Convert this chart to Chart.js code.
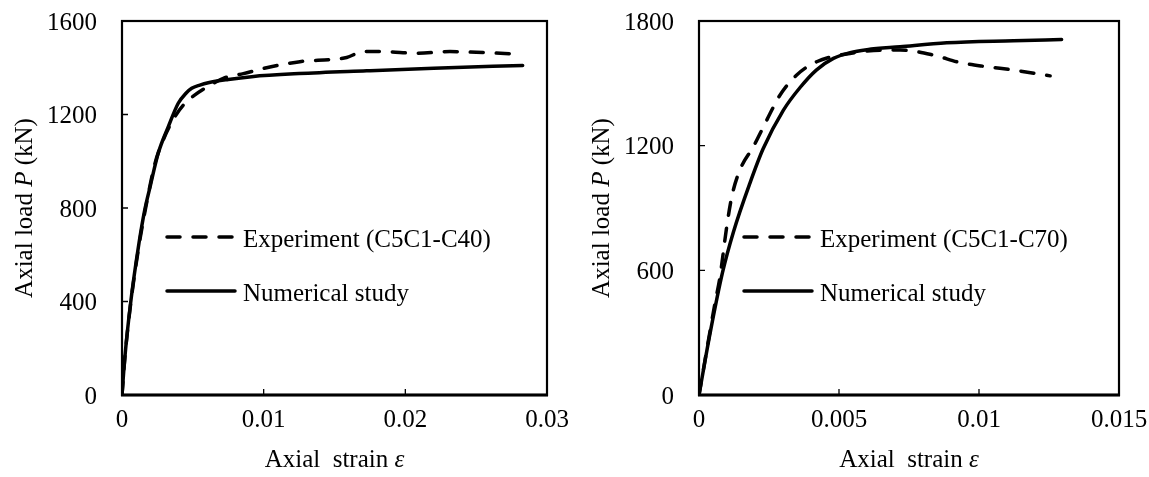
<!DOCTYPE html>
<html>
<head>
<meta charset="utf-8">
<title>Axial load vs axial strain</title>
<script src="https://cdn.jsdelivr.net/npm/chart.js@4.4.1/dist/chart.umd.min.js"></script>
<style>
  html, body { margin: 0; padding: 0; background: #fff; }
  #wrap { position: relative; width: 1149px; height: 477px; }
  .panel { position: absolute; top: 0; height: 477px; }
  #left { left: 0; width: 574px; }
  #right { left: 574px; width: 575px; }
</style>
</head>
<body>
<div id="wrap">
  <div class="panel" id="left"><canvas id="chartC40" width="574" height="477"></canvas></div>
  <div class="panel" id="right"><canvas id="chartC70" width="575" height="477"></canvas></div>
</div>
<script>
// C5C1-C40 specimen
const c40StrainExp = [0, 0.0002, 0.0006, 0.0012, 0.0017, 0.00233, 0.00291, 0.00374, 0.0044, 0.00515, 0.00644, 0.00715, 0.00857, 0.0102, 0.01256, 0.01491, 0.01586, 0.01703, 0.01844, 0.0208, 0.02315, 0.0255, 0.0278];
const c40LoadExp   = [0, 158, 385, 640, 810, 991, 1091, 1191, 1245, 1284, 1333, 1355, 1375, 1400, 1426, 1436, 1444, 1469, 1469, 1462, 1469, 1465, 1459];
const c40StrainNum = [0, 0.0002, 0.0006, 0.0012, 0.0016, 0.002, 0.00256, 0.00327, 0.00397, 0.0045, 0.00492, 0.0055, 0.00609, 0.0075, 0.00915, 0.0125, 0.01727, 0.022, 0.02828];
const c40LoadNum   = [0, 160, 390, 650, 790, 895, 1035, 1148, 1248, 1290, 1312, 1326, 1336, 1350, 1362, 1375, 1387, 1398, 1410];
const c40StrainTicks = [0, 0.01, 0.02, 0.03];
const c40LoadTicks   = [0, 400, 800, 1200, 1600];

// C5C1-C70 specimen
const c70StrainExp = [0, 0.00057, 0.00075, 0.00099, 0.00117, 0.00146, 0.00194, 0.00242, 0.00289, 0.00349, 0.0042, 0.00539, 0.00658, 0.00718, 0.00837, 0.00932, 0.01027, 0.01123, 0.01254];
const c70LoadExp   = [0, 441, 569, 810, 954, 1083, 1195, 1323, 1443, 1540, 1604, 1644, 1660, 1660, 1636, 1600, 1580, 1564, 1536];
const c70StrainNum = [0, 0.0004, 0.00084, 0.00123, 0.00182, 0.00229, 0.00301, 0.00361, 0.0042, 0.0048, 0.0054, 0.006, 0.00718, 0.00885, 0.01123, 0.01295];
const c70LoadNum   = [0, 300, 590, 785, 1020, 1185, 1370, 1480, 1565, 1620, 1648, 1662, 1676, 1695, 1705, 1711];
const c70StrainTicks = [0, 0.005, 0.01, 0.015];
const c70LoadTicks   = [0, 600, 1200, 1800];

const serif = "'Liberation Serif', 'Times New Roman', serif";
Chart.defaults.font.family = serif;
Chart.defaults.font.size = 25;
Chart.defaults.color = '#000';

function toPoints(xs, ys) {
  return xs.map((x, i) => ({ x: x, y: ys[i] }));
}

// draws pieces of text (some italic) one after another, centred on x
function drawRich(ctx, parts, x, y) {
  let total = 0;
  parts.forEach(p => {
    ctx.font = (p.italic ? 'italic ' : '') + '25px ' + serif;
    p.w = ctx.measureText(p.text).width;
    total += p.w;
  });
  let cx = x - total / 2;
  parts.forEach(p => {
    ctx.font = (p.italic ? 'italic ' : '') + '25px ' + serif;
    ctx.fillText(p.text, cx, y);
    cx += p.w;
  });
}

// box around the plot, inward ticks, axis titles and the legend
const framePlugin = {
  id: 'frame',
  afterDatasetsDraw(chart) {
    const ctx = chart.ctx;
    const a = chart.chartArea;
    const xs = chart.scales.x, ys = chart.scales.y;
    ctx.save();
    ctx.strokeStyle = '#000';
    ctx.lineWidth = 1.3;
    ctx.beginPath();
    xs.ticks.forEach(t => {
      const px = xs.getPixelForValue(t.value);
      ctx.moveTo(px, a.bottom);
      ctx.lineTo(px, a.bottom - 6);
    });
    ys.ticks.forEach(t => {
      const py = ys.getPixelForValue(t.value);
      ctx.moveTo(a.left, py);
      ctx.lineTo(a.left + 6, py);
    });
    ctx.stroke();

    ctx.lineWidth = 2.2;
    ctx.strokeRect(a.left, a.top, a.right - a.left, a.bottom - a.top);
    ctx.lineWidth = 3;
    ctx.beginPath();
    ctx.moveTo(a.left - 1, a.bottom);
    ctx.lineTo(a.right + 1, a.bottom);
    ctx.stroke();

    // axis titles
    ctx.fillStyle = '#000';
    ctx.textBaseline = 'alphabetic';
    drawRich(ctx, [{ text: 'Axial  strain ' }, { text: 'ε', italic: true }], (a.left + a.right) / 2, a.bottom + 72);
    ctx.save();
    ctx.translate(a.left - 90, (a.top + a.bottom) / 2);
    ctx.rotate(-Math.PI / 2);
    drawRich(ctx, [{ text: 'Axial load ' }, { text: 'P', italic: true }, { text: ' (kN)' }], 0, 0);
    ctx.restore();

    // legend
    chart.data.datasets.forEach((ds, i) => {
      const y = a.top + 216 + i * 54;
      ctx.save();
      ctx.lineWidth = ds.borderWidth;
      ctx.lineCap = 'round';
      ctx.setLineDash(ds.borderDash || []);
      ctx.beginPath();
      ctx.moveTo(a.left + 45, y);
      ctx.lineTo(a.left + 113, y);
      ctx.stroke();
      ctx.restore();
      ctx.font = '25px ' + serif;
      ctx.textAlign = 'left';
      ctx.fillText(ds.label, a.left + 121, y + 9.5);
    });
    ctx.restore();
  }
};

// keep the plot box fixed: no extra room reserved for overhanging tick labels
function clearPadding(s) {
  s.paddingTop = 0;
  s.paddingBottom = 0;
  s.paddingLeft = 0;
  s.paddingRight = 0;
}

function makeChart(id, name, strainExp, loadExp, strainNum, loadNum, strainTicks, loadTicks, yAxisWidth, rightPad) {
  const fmt = v => Number(v.toFixed(4)).toString();
  return new Chart(document.getElementById(id), {
    type: 'line',
    data: {
      datasets: [
        {
          label: 'Experiment (' + name + ')',
          data: toPoints(strainExp, loadExp),
          borderColor: '#000',
          borderWidth: 3.5,
          borderDash: [13, 13],
          borderCapStyle: 'round',
          cubicInterpolationMode: 'monotone',
          pointRadius: 0,
          fill: false
        },
        {
          label: 'Numerical study',
          data: toPoints(strainNum, loadNum),
          borderColor: '#000',
          borderWidth: 3.5,
          borderCapStyle: 'round',
          cubicInterpolationMode: 'monotone',
          pointRadius: 0,
          fill: false
        }
      ]
    },
    options: {
      responsive: false,
      animation: false,
      events: [],
      layout: { padding: { top: 21, right: rightPad, left: 0, bottom: 0 } },
      plugins: { legend: { display: false }, tooltip: { enabled: false } },
      scales: {
        x: {
          type: 'linear',
          min: strainTicks[0],
          max: strainTicks[strainTicks.length - 1],
          grid: { display: false, drawTicks: false },
          border: { display: false },
          ticks: {
            stepSize: strainTicks[1] - strainTicks[0],
            autoSkip: false,
            maxRotation: 0,
            padding: 10,
            callback: fmt
          },
          afterFit: s => { s.height = 82; clearPadding(s); }
        },
        y: {
          type: 'linear',
          min: loadTicks[0],
          max: loadTicks[loadTicks.length - 1],
          grid: { display: false, drawTicks: false },
          border: { display: false },
          ticks: {
            stepSize: loadTicks[1] - loadTicks[0],
            autoSkip: false,
            padding: 25,
            labelOffset: 2,
            callback: fmt
          },
          afterFit: s => { s.width = yAxisWidth; clearPadding(s); }
        }
      }
    },
    plugins: [framePlugin]
  });
}

makeChart('chartC40', 'C5C1-C40', c40StrainExp, c40LoadExp, c40StrainNum, c40LoadNum, c40StrainTicks, c40LoadTicks, 122, 27);
makeChart('chartC70', 'C5C1-C70', c70StrainExp, c70LoadExp, c70StrainNum, c70LoadNum, c70StrainTicks, c70LoadTicks, 125, 30);
</script>
</body>
</html>
